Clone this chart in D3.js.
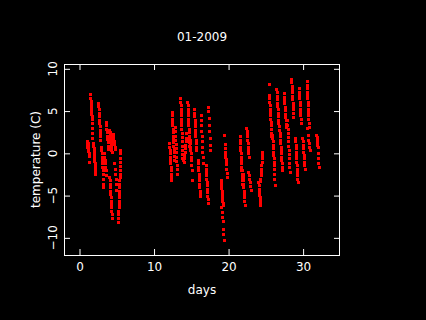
<!DOCTYPE html>
<html>
<head>
<meta charset="utf-8">
<script src="https://cdn.jsdelivr.net/npm/d3@7"></script>
<style>
  html, body { margin: 0; padding: 0; background: #000; }
  svg { display: block; }
  text { font-family: "DejaVu Sans", "Liberation Sans", sans-serif; font-size: 12px; fill: #fff; }
</style>
</head>
<body>
<script>
// ---- data ----
const chartTitle = "01-2009";
const xTitle = "days";
const yTitle = "temperature (C)";
const xTicks = [0, 10, 20, 30];
const yTicks = [-10, -5, 0, 5, 10];

// each streak: a run of regularly sampled readings from start day to end day
const streakStart = [0.99,1.43,1.83,2.50,2.90,3.54,3.27,4.02,4.46,4.02,4.66,5.18,
  12.03,12.38,12.78,13.52,14.01,14.47,14.79,15.36,15.87,16.25,16.92,17.23,18.94,19.05,19.45,
  21.50,21.84,22.40,22.67,
  23.98,24.25,25.42,25.87,26.43,26.87,27.40,27.88,28.40,28.95,29.41,29.90,30.46,30.57,31.78];
const streakEnd = [1.29,1.73,2.13,2.80,3.20,3.84,3.57,4.32,4.76,4.32,4.96,5.48,
  12.33,12.68,13.08,13.82,14.31,14.77,15.09,15.66,16.17,16.55,17.22,17.53,19.24,19.35,19.75,
  21.80,22.14,22.70,22.97,
  24.28,24.55,25.72,26.17,26.73,27.17,27.70,28.18,28.70,29.25,29.71,30.20,30.76,30.87,32.08];
const streakTemps = [
  [1.4,1.1,0.8,0.5,1.2,0.9,0.3,0.0,-0.3,-1.0],
  [7.0,6.5,6.2,5.9,5.6,5.3,5.0,4.7,4.4,4.1,3.6,3.0,2.4,1.8],
  [1.2,0.9,0.6,0.3,0.0,-0.3,-0.6,-0.9,-1.2,-1.5,-1.8,-2.1,-2.4],
  [6.0,5.6,5.2,4.8,4.4,4.0,3.6,3.2,2.8,2.4,2.0,1.6],
  [0.8,0.4,0.0,-0.4,-0.8,-1.2,-1.6,-2.0,-2.5,-3.0,-3.6,-4.0],
  [3.7,3.3,2.9,2.5,2.1,1.7,1.3,0.9,0.5],
  [0.0,-0.4,-0.8,-1.2,-1.6,-2.0,-2.6],
  [2.8,2.5,2.2,1.9,1.6,1.3,1.0,0.7,0.4,0.1],
  [2.3,2.0,1.7,1.4,1.1,0.8,0.5],
  [-2.8,-3.2,-3.6,-4.0,-4.4,-4.8,-5.2,-5.6,-6.0,-6.4,-6.8,-7.2,-7.7],
  [-1.2,-1.8,-2.4,-3.0,-3.6,-4.3],
  [-8.1,-7.6,-7.2,-6.8,-6.4,-6.0,-5.6,-5.2,-4.8,-4.4,-4.0,-3.6,-3.2,-2.8,-2.4,-2.0,-1.5,-1.0,-0.5,0.0,0.4],
  [1.2,0.8,0.4,0.0,-0.4,-0.8,-1.2,-1.6,-2.0,-2.4,-2.8,-3.2],
  [4.9,4.5,4.1,3.7,3.3,2.9,2.5,2.1,1.7,1.3,0.9,0.5,0.1,-0.3,-0.8],
  [3.1,2.6,2.1,1.6,1.1,0.6,0.1,-0.4,-0.9,-1.4,-1.9,-2.4],
  [6.5,6.1,5.7,5.3,4.9,4.5,4.1,3.7,3.3,2.9,2.4,1.9,1.4,0.9,0.4,-0.1,-0.5,-0.8],
  [-1.0,-0.6,-0.2,0.2,0.6,1.0,1.4,1.8,2.4],
  [6.1,5.7,5.3,4.9,4.5,4.1,3.7,3.3,2.9,2.5,2.1,1.7,1.3,0.9,0.4],
  [1.6,1.2,0.8,0.4,0.0,-0.4,-0.8,-1.4,-2.0,-3.2],
  [5.2,4.8,4.4,4.0,3.6,3.2,2.8,2.4,2.0,1.6,1.2,0.8,0.4],
  [-0.8,-1.2,-1.6,-2.0,-2.4,-2.8,-3.2,-3.6,-4.0,-4.4,-4.8,-5.1],
  [4.5,4.0,3.3,2.6,2.0,1.4,0.8,0.2,-0.4,-1.2],
  [-1.4,-1.8,-2.2,-2.6,-3.0,-3.4,-3.8,-4.2,-4.6,-5.0,-5.4,-5.9],
  [5.5,5.0,4.2,3.4,2.6,1.8,1.0,0.4],
  [-3.2,-3.5,-3.8,-4.1,-4.4,-4.7,-5.0,-5.3,-5.6,-5.9,-6.1],
  [-6.4,-7.0,-7.5,-8.0,-9.0,-9.6,-10.2],
  [2.2,1.1,0.6,0.2,-0.1,-0.4,-0.7,-1.0,-1.3,-1.8,-2.3,-2.8],
  [2.0,1.6,1.2,0.8,0.4,0.0,-0.4,-0.8,-1.2,-1.6,-2.0,-2.4,-2.8,-3.2,-3.6],
  [-2.0,-2.4,-2.8,-3.2,-3.6,-4.0,-4.4,-4.8,-5.2,-5.6,-6.1],
  [3.0,2.7,2.4,2.0,1.6,1.2,0.8,0.4,0.0,-0.4],
  [-2.2,-2.6,-3.0,-3.4,-3.9,-4.3],
  [-3.4,-3.8,-4.2,-4.6,-4.9,-5.2,-5.5,-5.8,-6.1],
  [-3.3,-3.0,-2.6,-2.2,-1.8,-1.4,-1.0,-0.6,-0.2,0.2],
  [8.2,6.9,6.5,6.1,5.7,5.3,4.9,4.5,4.1,3.7,3.3,2.9,2.4,2.0],
  [2.2,1.8,1.4,1.0,0.6,0.2,-0.2,-0.6,-1.0,-1.4,-1.8,-2.4,-3.0,-3.8],
  [7.6,7.2,6.8,6.4,6.0,5.6,5.2,4.8,4.4,4.0,3.6,3.2,2.8],
  [2.4,2.0,1.6,1.2,0.8,0.4,0.0,-0.4,-0.8,-1.2,-1.6,-2.0],
  [7.1,6.7,6.3,5.9,5.5,5.1,4.7,4.3,3.9,3.5,3.1],
  [3.9,3.4,2.9,2.4,1.9,1.4,0.9,0.4,-0.1,-0.6,-1.1,-1.6,-2.2],
  [8.8,8.4,8.0,7.6,7.2,6.8,6.4,6.0,5.6,5.2,4.8,4.3],
  [1.8,1.4,1.0,0.6,0.2,-0.2,-0.6,-1.0,-1.4,-1.8,-2.2,-2.6,-3.0,-3.4],
  [7.7,7.3,6.9,6.5,6.1,5.7,5.3,4.9,4.5,4.1,3.6],
  [1.8,1.4,1.0,0.6,0.2,-0.2,-0.6,-1.0,-1.4,-1.8],
  [8.5,8.1,7.7,7.3,6.9,6.5,6.1,5.7,5.3,4.9,4.5,4.1,3.6,3.1],
  [3.0,2.2,1.6,1.2,0.8,0.4],
  [2.2,1.9,1.6,1.3,1.0,0.8,0.0,-0.6,-1.1,-1.6]
];

// ---- layout ----
const W = 426, H = 320;
const plot = { left: 64, top: 64, right: 340, bottom: 255 };

const svg = d3.select("body").append("svg").attr("width", W).attr("height", H);
svg.append("rect").attr("width", W).attr("height", H).attr("fill", "#000");

const x = d3.scaleLinear().domain([-2.08, 34.95]).range([plot.left, plot.right]);
const y = d3.scaleLinear().domain([-12.03, 10.57]).range([plot.bottom, plot.top]);

// points
const pts = [];
streakTemps.forEach((temps, i) => {
  const n = temps.length;
  temps.forEach((t, j) => {
    const day = n > 1 ? streakStart[i] + (streakEnd[i] - streakStart[i]) * j / (n - 1) : streakStart[i];
    pts.push({ day, t });
  });
});
svg.append("g").attr("shape-rendering", "crispEdges")
  .selectAll("rect").data(pts).join("rect")
  .attr("x", d => Math.round(x(d.day)) - 1)
  .attr("y", d => Math.round(y(d.t)) - 1)
  .attr("width", 3).attr("height", 3)
  .attr("fill", "#ff0000");

// axes (ticks pointing inward on all four sides)
const tick = 6;
function styleAxis(g) {
  g.select(".domain").remove();
  g.selectAll(".tick line").attr("stroke", "#fff");
}
svg.append("g").attr("transform", `translate(0,${plot.bottom})`)
  .call(d3.axisBottom(x).tickValues(xTicks).tickSizeInner(-tick).tickSizeOuter(0).tickPadding(7))
  .call(styleAxis)
  .call(g => g.selectAll(".tick text").attr("fill", "#fff").attr("font-size", 12)
    .attr("font-family", "DejaVu Sans, sans-serif"));
svg.append("g").attr("transform", `translate(0,${plot.top})`)
  .call(d3.axisTop(x).tickValues(xTicks).tickSizeInner(-tick).tickSizeOuter(0).tickFormat(""))
  .call(styleAxis);
svg.append("g").attr("transform", `translate(${plot.left},0)`)
  .call(d3.axisLeft(y).tickValues(yTicks).tickSizeInner(-tick).tickSizeOuter(0).tickFormat(""))
  .call(styleAxis);
svg.append("g").attr("transform", `translate(${plot.right},0)`)
  .call(d3.axisRight(y).tickValues(yTicks).tickSizeInner(-tick).tickSizeOuter(0).tickFormat(""))
  .call(styleAxis);

// rotated y tick labels
const fmt = d3.format("");
svg.append("g").selectAll("text").data(yTicks).join("text")
  .attr("transform", d => `translate(56.5,${y(d)}) rotate(-90)`)
  .attr("text-anchor", "middle")
  .text(d => fmt(d));

// box
svg.append("rect")
  .attr("x", plot.left + 0.5).attr("y", plot.top + 0.5)
  .attr("width", plot.right - plot.left - 1).attr("height", plot.bottom - plot.top)
  .attr("fill", "none").attr("stroke", "#fff").attr("stroke-width", 1);

// titles
svg.append("text").attr("x", (plot.left + plot.right) / 2).attr("y", 40.5)
  .attr("text-anchor", "middle").text(chartTitle);
svg.append("text").attr("x", (plot.left + plot.right) / 2).attr("y", 294)
  .attr("text-anchor", "middle").text(xTitle);
svg.append("text").attr("transform", `translate(40,${(plot.top + plot.bottom) / 2}) rotate(-90)`)
  .attr("text-anchor", "middle").text(yTitle);
</script>
</body>
</html>
